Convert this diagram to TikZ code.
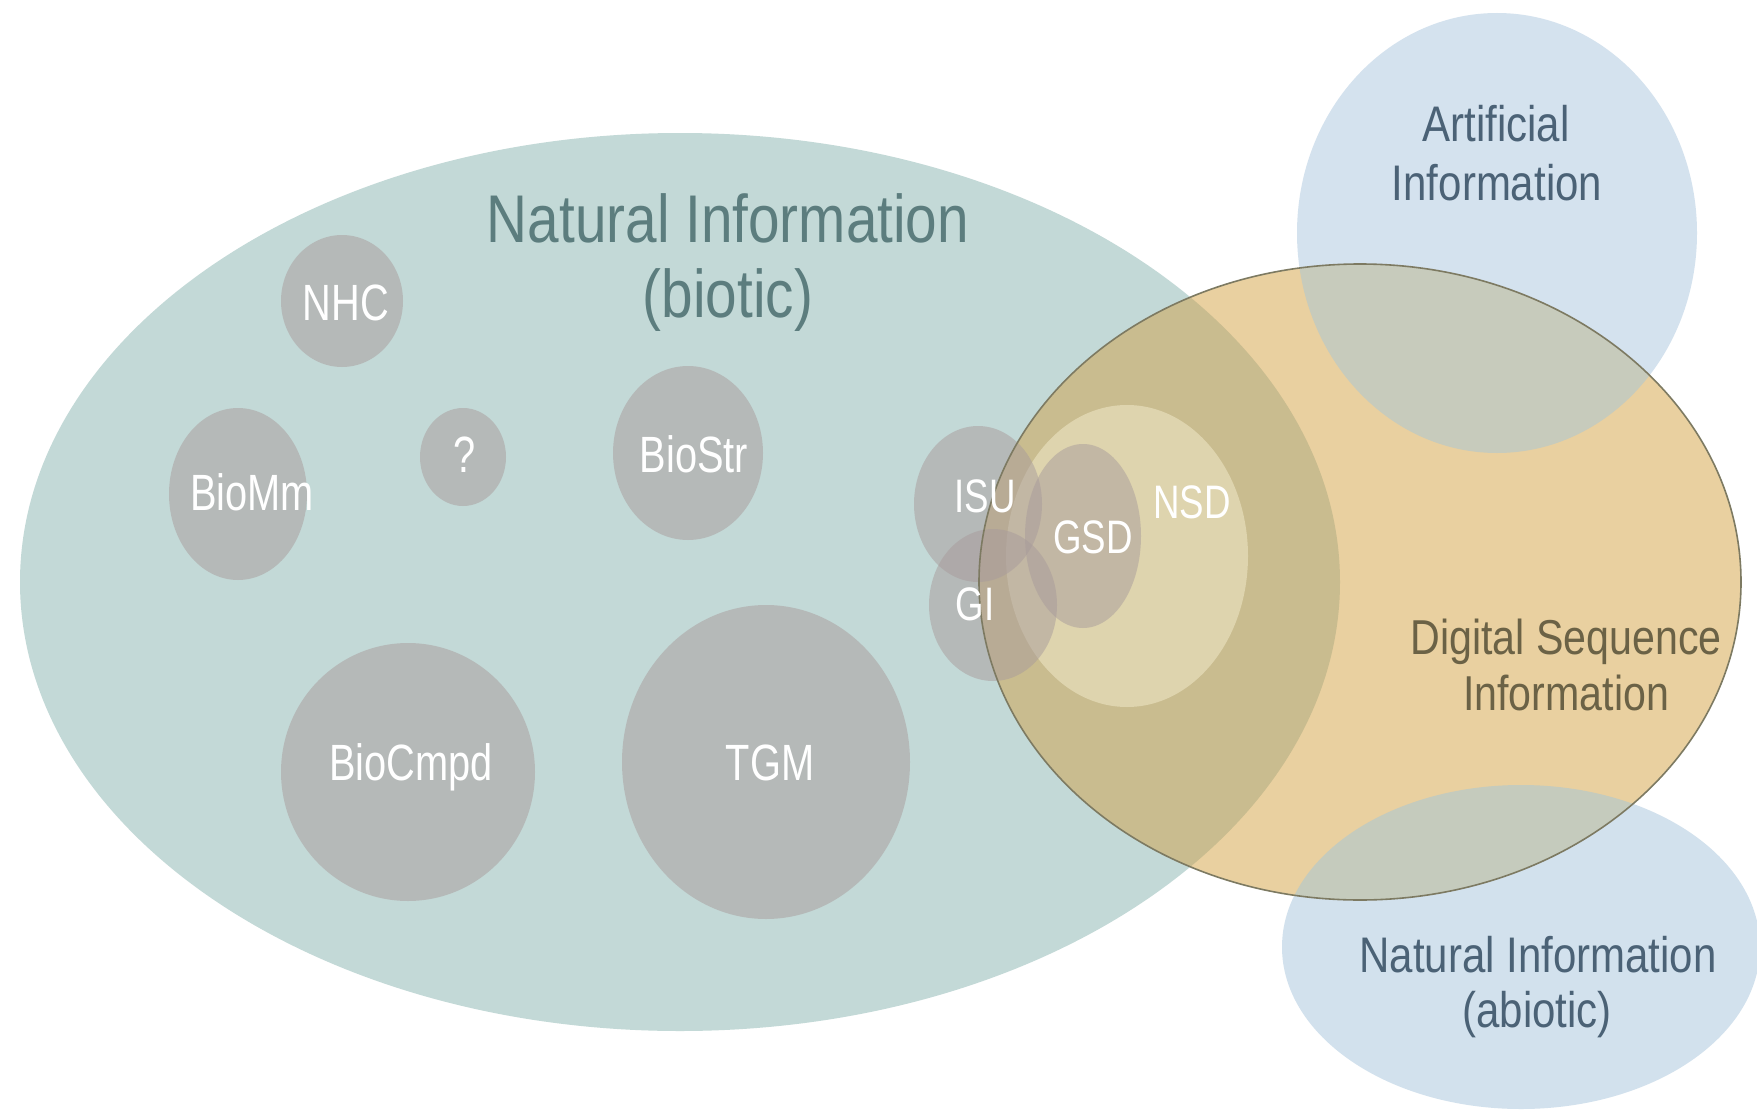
\documentclass[tikz,border=0pt]{standalone}
\usepackage{fontspec}
\setmainfont{Liberation Sans}[FakeStretch=0.84]
\newfontfamily\labfont{Liberation Sans}[FakeStretch=0.78]
\definecolor{bioteal}{HTML}{C3D9D7}
\definecolor{graytint}{HTML}{A89B9B}
\definecolor{artblue}{HTML}{D4E2EE}
\definecolor{abioblue}{HTML}{D2E1ED}
\definecolor{dsiorange}{HTML}{E9D0A0}
\definecolor{dsiolive}{HTML}{C9BC8F}
\definecolor{dsiartov}{HTML}{C7CBBC}
\definecolor{dsiabiov}{HTML}{C5CBBD}
\definecolor{nsdcream}{HTML}{DED4AE}
\definecolor{dsiline}{HTML}{7D7A62}
\definecolor{titleteal}{HTML}{5C7D7E}
\definecolor{slateblue}{HTML}{4B6276}
\definecolor{dsitext}{HTML}{6B6246}
\begin{document}
\begin{tikzpicture}[x=1pt,y=-1pt,
  gcirc/.style={fill=graytint, fill opacity=0.5},
  lab/.style={font=\labfont\fontsize{51}{60}\selectfont, text=white, anchor=base, inner sep=0pt},
  labs/.style={font=\labfont\fontsize{47}{56}\selectfont, text=white, anchor=base, inner sep=0pt},
  bigtitle/.style={font=\fontsize{67.5}{80}\selectfont, text=titleteal, anchor=base, inner sep=0pt},
  sidelab/.style={font=\fontsize{50}{60}\selectfont, text=slateblue, anchor=base, inner sep=0pt},
  dsilab/.style={font=\fontsize{49}{58}\selectfont, text=dsitext, anchor=base, inner sep=0pt}
]
\fill[white] (0,0) rectangle (1757,1116);
\useasboundingbox (0,0) rectangle (1757,1116);

% large regions
\fill[bioteal] (680,582) ellipse [x radius=660pt, y radius=449pt];
\fill[artblue] (1497,233) ellipse [x radius=200pt, y radius=220pt];
\fill[abioblue] (1521,947) ellipse [x radius=239pt, y radius=162pt];
\fill[dsiorange] (1360,582) ellipse [x radius=381pt, y radius=318pt];
\begin{scope}
  \clip (1360,582) ellipse [x radius=381pt, y radius=318pt];
  \fill[dsiolive] (680,582) ellipse [x radius=660pt, y radius=449pt];
  \fill[dsiartov] (1497,233) ellipse [x radius=200pt, y radius=220pt];
  \fill[dsiabiov] (1521,947) ellipse [x radius=239pt, y radius=162pt];
\end{scope}
\fill[nsdcream] (1127,556) ellipse [x radius=121pt, y radius=151pt];

% small categories
\fill[gcirc] (342,301) ellipse [x radius=61pt, y radius=66pt];
\fill[gcirc] (238,494) ellipse [x radius=69pt, y radius=86pt];
\fill[gcirc] (463,457) ellipse [x radius=43pt, y radius=49pt];
\fill[gcirc] (688,453) ellipse [x radius=75pt, y radius=87pt];
\fill[gcirc] (408,772) ellipse [x radius=127pt, y radius=129pt];
\fill[gcirc] (766,762) ellipse [x radius=144pt, y radius=157pt];
\fill[gcirc] (978,504) ellipse [x radius=64pt, y radius=78pt];
\fill[gcirc] (993,605) ellipse [x radius=64pt, y radius=76pt];
\fill[gcirc] (1083,536) ellipse [x radius=58pt, y radius=92pt];

\draw[dsiline, line width=1.6pt] (1360,582) ellipse [x radius=381pt, y radius=318pt];

% labels
\node[bigtitle] (t1) at (728,242) {Natural Information};
\node[bigtitle] (t2) at (728,317) {(biotic)};
\node[sidelab] (a1) at (1496,141) {Artificial};
\node[sidelab] (a2) at (1497,200) {Information};
\node[dsilab] (d1) at (1566,654) {Digital Sequence};
\node[dsilab] (d2) at (1566,710) {Information};
\node[sidelab] (n1) at (1538,972) {Natural Information};
\node[sidelab] (n2) at (1537,1027) {(abiotic)};

\node[lab] (nhc) at (346,320) {NHC};
\node[lab] (biomm) at (252,510) {BioMm};
\node[lab] (q) at (465,472) {?};
\node[lab] (biostr) at (694,472) {BioStr};
\node[lab] (biocmpd) at (411,780) {BioCmpd};
\node[lab] (tgm) at (770,780) {TGM};
\node[labs] (isu) at (985,512) {ISU};
\node[labs] (gi) at (975,620) {GI};
\node[labs] (gsd) at (1093,553) {GSD};
\node[labs] (nsd) at (1192,518) {NSD};
\end{tikzpicture}
\end{document}
